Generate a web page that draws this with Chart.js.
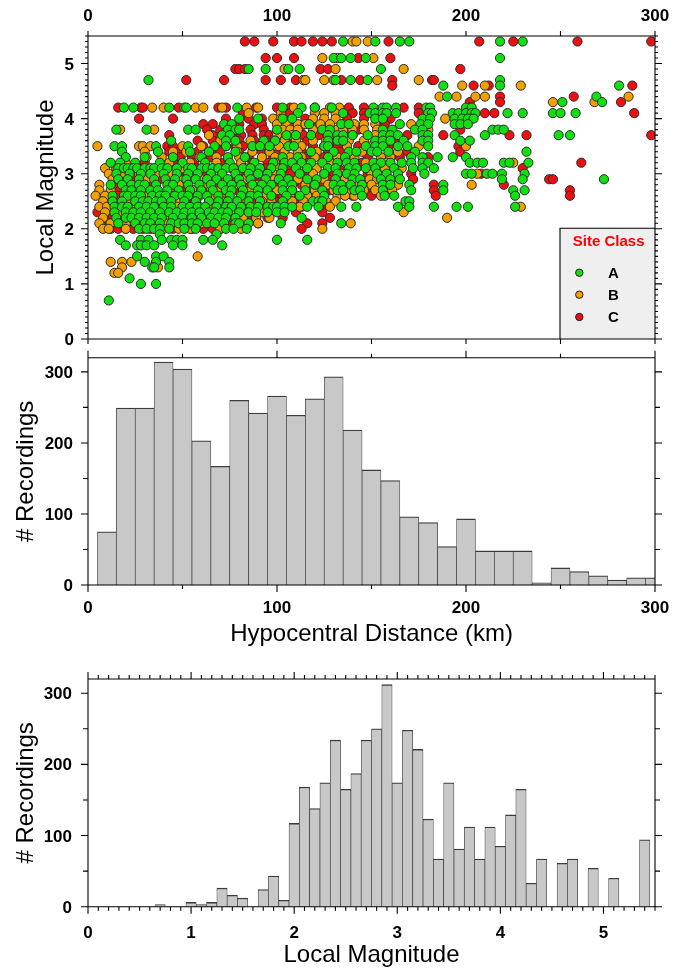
<!DOCTYPE html>
<html>
<head>
<meta charset="utf-8">
<script src="https://cdn.jsdelivr.net/npm/chart.js@4.4.1/dist/chart.umd.min.js"></script>
<style>
html,body{margin:0;padding:0;background:#fff;}
#wrap{position:relative;width:673px;height:968px;background:#fff;}
canvas{position:absolute;left:0;}
</style>
</head>
<body>
<div id="wrap">
<canvas id="c1" width="673" height="348" style="top:0px"></canvas>
<canvas id="c2" width="673" height="302" style="top:348px"></canvas>
<canvas id="c3" width="673" height="318" style="top:650px"></canvas>
</div>
<script>
// ---------------- DATA ----------------
const distTickLabels = [0, 100, 200, 300];
const magTickLabels = [0, 1, 2, 3, 4, 5];
const countTickLabels = [0, 100, 200, 300];
const siteClassNames = ['A', 'B', 'C'];

// Scatter: rows of [local magnitude, [hypocentral distances (km)]]
const siteA = [
  [5.4,[135,152,165,170,218,230]],
  [5.1,[130,134,139,147,218]],
  [4.9,[85,94,106,112,155]],
  [4.7,[32,131,139,148,218]],
  [4.6,[188,218,281]],
  [4.4,[190,269]],
  [4.3,[251,272]],
  [4.2,[19,24,43,51,52,79,103,113,120,129,151,156,158,163,179,181,200,203]],
  [4.1,[111,135,149,152,156,158,163,180,182,193,196,200,203,205,222,230,246,250,258]],
  [4.0,[80,90,103,108,152,156,177,181,194,198,201,204]],
  [3.9,[72,76,117,134,138,165,176,180,194,197,201]],
  [3.8,[15,31,53,57,74,78,80,100,124,128,156,161,173,177,214,217,220]],
  [3.7,[71,75,105,110,118,127,132,135,140,148,156,160,164,177,180,194,210,249,255]],
  [3.6,[44,73,78,93,99,127,132,135,152,156,160,167,177,180,197,202]],
  [3.5,[14,18,36,53,67,73,87,91,96,106,109,125,127,147,152,156,164,169,180]],
  [3.4,[18,37,54,64,78,118,130,138,142,150,153,159,173,232]],
  [3.3,[20,30,45,60,74,83,103,111,127,136,171,177,185,193,200]],
  [3.2,[12,17,25,38,50,62,75,88,98,104,108,113,118,124,132,137,141,151,155,160,166,171,177,180,202,206,209,220,223,233]],
  [3.1,[16,19,21,24,26,30,33,35,39,42,47,53,55,60,63,66,69,73,77,82,86,91,97,103,110,116,127,131,138,142,147,152,162,172,177,183]],
  [3.0,[15,22,28,33,40,47,53,58,65,71,78,85,90,95,102,112,125,132,137,141,153,158,164,178,200,203,211,214,219,231]],
  [2.9,[16,21,27,35,41,46,52,57,63,68,74,80,86,94,101,106,116,121,131,140,144,155,160,165,219,230,273]],
  [2.8,[12,18,23,27,30,36,42,45,53,59,65,71,76,81,87,92,97,103,108,120,130,134,139,145,156,160,170,188]],
  [2.7,[20,23,28,33,37,42,48,54,60,66,73,76,82,90,95,103,108,115,124,132,135,141,144,156,171,188,225,231]],
  [2.6,[13,19,21,25,28,34,38,41,46,50,53,58,63,69,75,81,86,90,97,105,112,125,145,157,162,226]],
  [2.5,[13,18,25,29,32,36,39,44,51,57,64,69,74,79,85,91,103,119,122,124,168,170]],
  [2.4,[14,18,21,27,31,35,40,44,50,54,58,62,68,73,76,81,86,90,95,98,100,104,108,116,122,134,142,164,170,183,195,201,226]],
  [2.3,[14,20,24,28,33,38,43,47,51,55,59,64,67,71,74,80,85,89,95,100,104]],
  [2.2,[15,20,23,27,31,35,39,45,50,55,60,65,69,73,78,113]],
  [2.1,[16,25,30,33,38,44,48,51,55,58,63,67,72,78,80,85,102,134]],
  [2.0,[27,31,35,38,43,51,57,73,77,84]],
  [1.9,[38,68]],
  [1.8,[17,28,32,39,44,47,50,61,66,100,116]],
  [1.7,[20,26,28,31,35,45,50,71]],
  [1.5,[26,36,40]],
  [1.4,[30,36,43]],
  [1.3,[34,35,43]],
  [1.1,[22]],
  [1.0,[28,36]],
  [0.7,[11]]
];
const siteB = [
  [5.4,[140,142,148]],
  [5.1,[124,132,151]],
  [4.9,[104,131,167]],
  [4.7,[114,115,125,130,153,175]],
  [4.6,[198,210,229]],
  [4.4,[186,195,205,210,286]],
  [4.3,[246,268]],
  [4.2,[34,40,57,61,71,84,90,109,120,128,133]],
  [4.1,[85,102,120,125,131]],
  [4.0,[98,102,119,125,131,189]],
  [3.9,[100,105,111,115,123,128,135,141,146,152,171]],
  [3.8,[17,35,103,107,111,119,132,135,140,146,153,180]],
  [3.7,[64,100,108,118,128,140,152]],
  [3.6,[70,86,99,104,110,119,126,138,146,178]],
  [3.5,[5,27,29,33,50,60,79,95,101,113,137,150,175,200]],
  [3.4,[30,45,52,79,87,96,104,111,121,145,164]],
  [3.3,[31,39,59,68,80,92,99,107,113,120,132,141,155,160]],
  [3.2,[20,43,54,68,81,99,110,128,136,147,158,225]],
  [3.1,[9,15,50,76,83,100,112,121,140,157,166]],
  [3.0,[11,18,27,36,44,58,68,79,98,119,134,150,206]],
  [2.9,[13,31,48,60,73,83,98,111,125,136,149,153]],
  [2.8,[6,20,48,62,78,90,115,127,142,150,164,203]],
  [2.7,[6,12,25,36,45,56,60,65,70,86,100,108,120,130,139,146,152,161]],
  [2.6,[4,9,31,44,59,65,72,94,107,116,121,132,136,141,155]],
  [2.5,[8,22,47,57,71,82,92,97,108,114,126,131]],
  [2.4,[6,10,24,47,59,65,83,90,112,128,229]],
  [2.3,[9,17,36,62,77,92,167]],
  [2.2,[8,42,52,59,82,89,96,190]],
  [2.1,[6,12,20,41,60,70,90,139]],
  [2.0,[8,11,20,40,48,54,70,81,124]],
  [1.5,[58]],
  [1.4,[12,18,23]],
  [1.3,[18,37]],
  [1.2,[14,16]]
];
const siteC = [
  [5.4,[83,88,98,109,113,119,124,129,159,207,225,259,298]],
  [5.1,[94,100,109,143,160]],
  [4.9,[78,80,83,123,127,197]],
  [4.7,[52,72,94,102,110,114,134,144,161,182,183]],
  [4.6,[161,204,212,288]],
  [4.4,[218,257]],
  [4.3,[202,218,282]],
  [4.2,[16,28,29,48,69,73,89,100,107,138,146,167,175,202]],
  [4.1,[82,107,140,146,175,210,215,289]],
  [4.0,[27,45,73,85,92,115,137,146,160]],
  [3.9,[61,66,80,88,92,100,107,118,157]],
  [3.8,[63,70,86,93,112,125,143,155,197]],
  [3.7,[43,66,77,81,87,93,96,99,103,114,122,136,169,188,223,232,298]],
  [3.6,[58,66,80,88,94,100,109,116,130,162]],
  [3.5,[42,45,61,68,73,78,82,90,95,104,110,119,125,132,143,159,196]],
  [3.4,[43,48,58,65,70,80,92,101,113,127,133,146,169,197]],
  [3.3,[45,49,55,65,85,98,115,125,132,148,165,180]],
  [3.2,[18,30,45,56,70,87,95,103,115,127,145,261]],
  [3.1,[15,19,29,36,47,50,57,79,94,99,106,120,135,165,230]],
  [3.0,[15,19,23,34,43,52,61,68,82,91,99,107,116,128,148,171,208]],
  [2.9,[24,38,51,58,77,90,112,127,136,150,172,244,246]],
  [2.8,[15,33,50,67,84,100,113,117,124,133,183,220]],
  [2.7,[17,30,45,52,63,79,98,103,119,128,137,151,157,183,255]],
  [2.6,[16,31,46,56,66,74,85,99,103,110,120,140,150,184,255]],
  [2.5,[10,22,41,54,67,79,88,99,112]],
  [2.4,[12,25,38,48,66,79,102,113,124]],
  [2.3,[5,10,17,30,41,57,76,91,110,124]],
  [2.2,[10,13,18,33,42,62,85,95,103,128]],
  [2.1,[11,19,22,28,35,53,62,75,90,116,124]],
  [2.0,[12,16,20,24,29,33,45,55,61,66,70,113]]
];

// Distance histogram (10 km bins, centres)
const distBinCenters = [10,20,30,40,50,60,70,80,90,100,110,120,130,140,150,160,170,180,190,200,210,220,230,240,250,260,270,280,290,300];
const distCounts = [75,249,249,314,304,203,167,260,242,266,239,262,293,218,162,147,96,88,54,93,48,48,48,3,24,19,13,7,10,10];

// Magnitude histogram (0.1 bins, centres)
const magBinCenters = [0.1,0.2,0.3,0.4,0.5,0.6,0.7,0.8,0.9,1.0,1.1,1.2,1.3,1.4,1.5,1.6,1.7,1.8,1.9,2.0,2.1,2.2,2.3,2.4,2.5,2.6,2.7,2.8,2.9,3.0,3.1,3.2,3.3,3.4,3.5,3.6,3.7,3.8,3.9,4.0,4.1,4.2,4.3,4.4,4.5,4.6,4.7,4.8,4.9,5.0,5.1,5.2,5.3,5.4];
const magCounts = [0,0,0,0,0,0,3,0,0,6,3,6,26,16,12,0,24,43,9,117,168,138,174,234,165,187,234,250,312,174,248,221,123,67,174,81,112,67,112,85,129,165,33,67,0,61,67,0,54,0,40,0,0,94];

// ---------------- STYLE ----------------
const FONT = '"Liberation Sans", Arial, Helvetica, sans-serif';
const TICK_FONT = 'bold 17px ' + FONT;
const TITLE_FONT = '24px ' + FONT;
const classColors = ['#10e010', '#f2a000', '#ee1010'];

function rowsToPoints(rows) {
  const pts = [];
  rows.forEach(([m, ds]) => ds.forEach(d => pts.push({x: d, y: m})));
  return pts;
}
function makeTicks(min, max, step, majorTest, majLen, minLen) {
  const n = Math.round((max - min) / step);
  const out = [];
  for (let i = 0; i <= n; i++) {
    const v = +(min + i * step).toFixed(6);
    out.push({v, len: majorTest(v) ? majLen : minLen});
  }
  return out;
}
const isInt = v => Math.abs(v - Math.round(v)) < 1e-6;
const isHundred = v => Math.abs(v % 100) < 1e-6;

function framePlugin(spec) {
  return {
    id: 'frame',
    afterDatasetsDraw(chart) {
      const ctx = chart.ctx, a = chart.chartArea;
      const xs = chart.scales.x, ys = chart.scales.y;
      ctx.save();
      if (spec.legend) spec.legend(chart);
      ctx.strokeStyle = '#000';
      ctx.lineWidth = 1.1;
      ctx.beginPath();
      ctx.rect(a.left, a.top, a.right - a.left, a.bottom - a.top);
      spec.xTicks.forEach(t => {
        const px = xs.getPixelForValue(t.v);
        ctx.moveTo(px, a.bottom); ctx.lineTo(px, a.bottom + t.len);
        ctx.moveTo(px, a.top); ctx.lineTo(px, a.top - t.len);
      });
      spec.yTicks.forEach(t => {
        const py = ys.getPixelForValue(t.v);
        ctx.moveTo(a.left, py); ctx.lineTo(a.left - t.len, py);
        ctx.moveTo(a.right, py); ctx.lineTo(a.right + t.len, py);
      });
      ctx.stroke();
      // tick labels
      ctx.fillStyle = '#000';
      ctx.font = TICK_FONT;
      ctx.textBaseline = 'alphabetic';
      ctx.textAlign = 'center';
      spec.xLabels.forEach(v => {
        ctx.fillText(String(v), xs.getPixelForValue(v), spec.xLabelBaseline);
      });
      ctx.textAlign = 'right';
      spec.yLabels.forEach(v => {
        ctx.fillText(String(v), spec.yLabelRight, ys.getPixelForValue(v) + 6);
      });
      // titles
      ctx.font = TITLE_FONT;
      if (spec.xTitle) {
        ctx.textAlign = 'center';
        ctx.fillText(spec.xTitle, (a.left + a.right) / 2, spec.xTitleBaseline);
      }
      ctx.save();
      ctx.translate(spec.yTitleBaseline, (a.top + a.bottom) / 2);
      ctx.rotate(-Math.PI / 2);
      ctx.textAlign = 'center';
      ctx.fillText(spec.yTitle, 0, 0);
      ctx.restore();
      ctx.restore();
    }
  };
}

function drawLegend(chart) {
  const ctx = chart.ctx, a = chart.chartArea;
  const bx = 560, by = 228.3;
  ctx.fillStyle = '#efefef';
  ctx.fillRect(bx, by, a.right - bx, a.bottom - by);
  ctx.strokeStyle = '#000';
  ctx.lineWidth = 1.1;
  ctx.beginPath();
  ctx.moveTo(bx, a.bottom); ctx.lineTo(bx, by); ctx.lineTo(a.right, by);
  ctx.stroke();
  ctx.fillStyle = '#ff0000';
  ctx.font = 'bold 15px ' + FONT;
  ctx.textAlign = 'center';
  ctx.textBaseline = 'alphabetic';
  ctx.fillText('Site Class', 608.7, 246);
  const ys = [272.7, 294.7, 317];
  chart.data.datasets.forEach((ds, i) => {
    ctx.beginPath();
    ctx.arc(579.3, ys[i], 3.7, 0, Math.PI * 2);
    ctx.fillStyle = ds.backgroundColor;
    ctx.fill();
    ctx.lineWidth = 1;
    ctx.strokeStyle = '#222';
    ctx.stroke();
    ctx.fillStyle = '#000';
    ctx.font = 'bold 15px ' + FONT;
    ctx.fillText(ds.label, 613.5, ys[i] + 5);
  });
}

const common = {
  responsive: false,
  animation: false,
  events: [],
  plugins: { legend: { display: false }, tooltip: { enabled: false } }
};

// ---------------- PANEL 1: scatter ----------------
new Chart(document.getElementById('c1'), {
  type: 'scatter',
  data: {
    datasets: [siteA, siteB, siteC].map((rows, i) => ({
      label: siteClassNames[i],
      data: rowsToPoints(rows),
      backgroundColor: classColors[i],
      borderColor: '#2a2a2a',
      borderWidth: 1,
      pointRadius: 4.6
    }))
  },
  options: Object.assign({}, common, {
    layout: { padding: { left: 88, right: 18, top: 36, bottom: 9 } },
    scales: {
      x: { type: 'linear', min: 0, max: 300, display: false },
      y: { type: 'linear', min: 0, max: 5.5, display: false }
    }
  }),
  plugins: [framePlugin({
    legend: drawLegend,
    xTicks: makeTicks(0, 300, 50, isHundred, 5, 5),
    yTicks: makeTicks(0, 5.5, 0.1, isInt, 7, 3),
    xLabels: distTickLabels, xLabelBaseline: 21,
    yLabels: magTickLabels, yLabelRight: 74,
    yTitle: 'Local Magnitude', yTitleBaseline: 53
  })]
});

// ---------------- PANEL 2: distance histogram ----------------
const barStyle = {
  backgroundColor: '#c8c8c8',
  borderColor: '#3c3c3c',
  borderWidth: { top: 1.3, left: 0.7, right: 0.7, bottom: 0 },
  borderSkipped: false,
  barPercentage: 1,
  categoryPercentage: 1,
  clip: 0
};
new Chart(document.getElementById('c2'), {
  type: 'bar',
  data: {
    datasets: [Object.assign({
      label: '# Recordings',
      data: distBinCenters.map((c, i) => ({x: c, y: distCounts[i]}))
    }, barStyle)]
  },
  options: Object.assign({}, common, {
    layout: { padding: { left: 88, right: 18, top: 9.7, bottom: 65 } },
    scales: {
      x: { type: 'linear', min: 0, max: 300, display: false, offset: false },
      y: { type: 'linear', min: 0, max: 320, display: false }
    }
  }),
  plugins: [framePlugin({
    xTicks: makeTicks(0, 300, 50, isHundred, 7, 4),
    yTicks: makeTicks(0, 300, 50, isHundred, 7, 5),
    xLabels: distTickLabels, xLabelBaseline: 265.3,
    yLabels: countTickLabels, yLabelRight: 73,
    xTitle: 'Hypocentral Distance (km)', xTitleBaseline: 293,
    yTitle: '# Recordings', yTitleBaseline: 33
  })]
});

// ---------------- PANEL 3: magnitude histogram ----------------
new Chart(document.getElementById('c3'), {
  type: 'bar',
  data: {
    datasets: [Object.assign({
      label: '# Recordings',
      data: magBinCenters.map((c, i) => ({x: c, y: magCounts[i]}))
    }, barStyle)]
  },
  options: Object.assign({}, common, {
    layout: { padding: { left: 88, right: 18, top: 29, bottom: 61.3 } },
    scales: {
      x: { type: 'linear', min: 0, max: 5.5, display: false, offset: false },
      y: { type: 'linear', min: 0, max: 320, display: false }
    }
  }),
  plugins: [framePlugin({
    xTicks: makeTicks(0, 5.5, 0.1, isInt, 7, 4),
    yTicks: makeTicks(0, 300, 50, isHundred, 7, 5),
    xLabels: magTickLabels, xLabelBaseline: 288,
    yLabels: countTickLabels, yLabelRight: 72,
    xTitle: 'Local Magnitude', xTitleBaseline: 312,
    yTitle: '# Recordings', yTitleBaseline: 33
  })]
});
</script>
</body>
</html>
